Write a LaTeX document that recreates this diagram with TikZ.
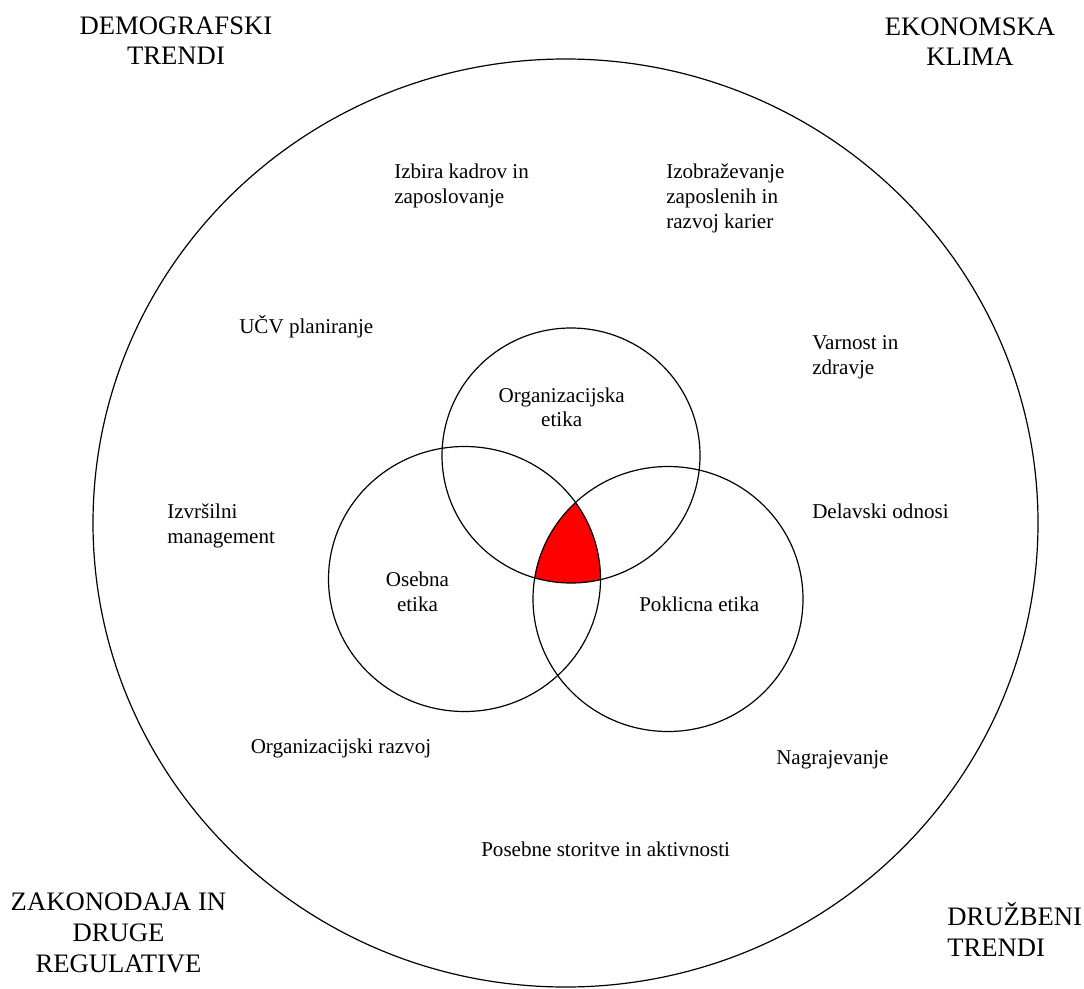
\documentclass[tikz,border=0pt]{standalone}
\usepackage{fontspec}
\setmainfont{Liberation Serif}
\usetikzlibrary{positioning}

\tikzset{
  ring/.style={draw=black,line width=0.9pt},
  area/.style={inner sep=0pt,align=left,anchor=base west,font=\fontsize{15.8}{18.4}\selectfont},
  ethic/.style={inner sep=0pt,align=center,anchor=base,font=\fontsize{15.8}{18.4}\selectfont},
  trend/.style={inner sep=0pt,align=center,anchor=base,font=\fontsize{20}{22.9}\selectfont}
}

\begin{document}
\begin{tikzpicture}[x=0.75pt,y=-0.75pt]
\useasboundingbox (0,0) rectangle (1084,988);
\coordinate (envc) at (565.5,523);
\coordinate (orgc) at (571,455.5);
\coordinate (osec) at (464.5,579);
\coordinate (pokc) at (668,599);

\begin{scope}
\clip (osec) ellipse [x radius=136,y radius=132.5];
\clip (pokc) ellipse [x radius=135,y radius=132.5];
\fill[red] (orgc) ellipse [x radius=129,y radius=127.5];
\end{scope}
\draw[ring] (envc) ellipse [x radius=472.5,y radius=464];
\draw[ring] (orgc) ellipse [x radius=129,y radius=127.5];
\draw[ring] (osec) ellipse [x radius=136,y radius=132.5];
\draw[ring] (pokc) ellipse [x radius=135,y radius=132.5];

\node[trend] (demo) at (176,65) {DEMOGRAFSKI\\TRENDI};
\node[trend] (ekon) at (970,66) {EKONOMSKA\\KLIMA};
\node[trend] (zakon) at (118.5,972) {ZAKONODAJA IN\\DRUGE\\REGULATIVE};
\node[trend,align=left,anchor=base west] (druzb) at (947,956) {DRUŽBENI\\TRENDI};

\node[area] (izbira) at (394,203) {Izbira kadrov in\\zaposlovanje};
\node[area] (izobr) at (666,228) {Izobraževanje\\zaposlenih in\\razvoj karier};
\node[area] (ucv) at (239,333) {UČV planiranje};
\node[area] (varnost) at (812,374) {Varnost in\\zdravje};
\node[area] (izvrs) at (167,543) {Izvršilni\\management};
\node[area] (delav) at (812,518) {Delavski odnosi};
\node[area] (orgraz) at (250.5,753) {Organizacijski razvoj};
\node[area] (nagraj) at (776,764) {Nagrajevanje};
\node[area] (posebne) at (481,856) {Posebne storitve in aktivnosti};

\node[ethic] (orgeth) at (561.7,426.7) {Organizacijska\\etika};
\node[ethic] (oseeth) at (417.5,611) {Osebna\\etika};
\node[ethic,anchor=base west] (poketh) at (639,611) {Poklicna etika};
\end{tikzpicture}
\end{document}
